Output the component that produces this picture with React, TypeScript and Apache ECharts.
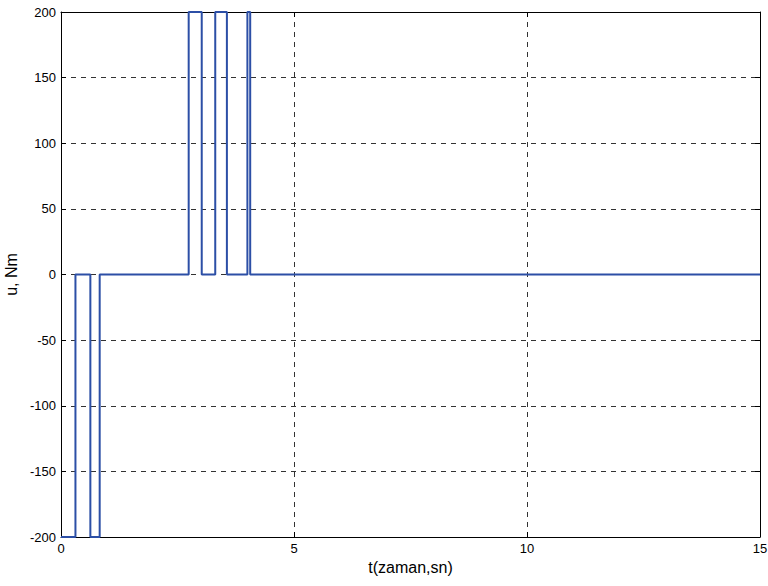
import React, { useEffect, useRef } from "react";
import * as echarts from "echarts";

// Switching instants (s) and the control torque held from each instant on (Nm)
const switchTimes = [0, 0.31, 0.63, 0.83, 2.74, 3.02, 3.31, 3.56, 4.0, 4.06];
const levels = [-200, 0, -200, 0, 200, 0, 200, 0, 200, 0];
const endTime = 15;

const xTicks = [0, 5, 10, 15];
const yTicks = [-200, -150, -100, -50, 0, 50, 100, 150, 200];

const LINE = "#2c4fa6";
const FONT = "'Liberation Sans', Arial, sans-serif";

function buildSteps(): [number, number][] {
  const pts: [number, number][] = [];
  for (let i = 0; i < switchTimes.length; i++) {
    const next = i + 1 < switchTimes.length ? switchTimes[i + 1] : endTime;
    pts.push([switchTimes[i], levels[i]]);
    pts.push([next, levels[i]]);
  }
  return pts;
}

export default function App() {
  const ref = useRef<HTMLDivElement>(null);

  useEffect(() => {
    if (!ref.current) return;
    const chart = echarts.init(ref.current, null, { renderer: "svg" });
    const splitLine = {
      show: true,
      lineStyle: { color: "#333", type: [5, 5] as any, width: 1 },
    };
    const axisCommon = {
      type: "value" as const,
      axisLine: { show: true, onZero: false, lineStyle: { color: "#000", width: 1 } },
      axisTick: { show: true, inside: true, length: 5, lineStyle: { color: "#000" } },
    };
    chart.setOption({
      animation: false,
      backgroundColor: "#fff",
      grid: {
        left: 61,
        right: 8,
        top: 12,
        bottom: 49,
        containLabel: false,
        outerBoundsMode: "none",
      },
      xAxis: [
        {
          ...axisCommon,
          position: "bottom",
          min: 0,
          max: 15,
          interval: 5,
          splitLine,
          axisLabel: {
            color: "#000",
            fontFamily: FONT,
            fontSize: 13,
            margin: 5,
            formatter: (v: number) => (xTicks.includes(v) ? String(v) : ""),
          },
          name: "t(zaman,sn)",
          nameLocation: "middle",
          nameGap: 22,
          nameTextStyle: { color: "#000", fontFamily: FONT, fontSize: 16 },
        },
        {
          ...axisCommon,
          position: "top",
          min: 0,
          max: 15,
          interval: 5,
          splitLine: { show: false },
          axisLabel: { show: false },
        },
      ],
      yAxis: [
        {
          ...axisCommon,
          position: "left",
          min: -200,
          max: 200,
          interval: 50,
          splitLine,
          axisLabel: {
            color: "#000",
            fontFamily: FONT,
            fontSize: 13,
            margin: 5,
            formatter: (v: number) => (yTicks.includes(v) ? String(v) : ""),
          },
          name: "u, Nm",
          nameLocation: "middle",
          nameGap: 33,
          nameTextStyle: { color: "#000", fontFamily: FONT, fontSize: 16 },
        },
        {
          ...axisCommon,
          position: "right",
          min: -200,
          max: 200,
          interval: 50,
          splitLine: { show: false },
          axisLabel: { show: false },
        },
      ],
      series: [
        {
          type: "line",
          data: buildSteps(),
          showSymbol: false,
          symbol: "none",
          lineStyle: { color: LINE, width: 2 },
          clip: false,
        },
      ],
    });
    return () => chart.dispose();
  }, []);

  return (
    <div
      ref={ref}
      style={{ position: "fixed", left: 0, top: 0, width: 768, height: 586 }}
    />
  );
}
